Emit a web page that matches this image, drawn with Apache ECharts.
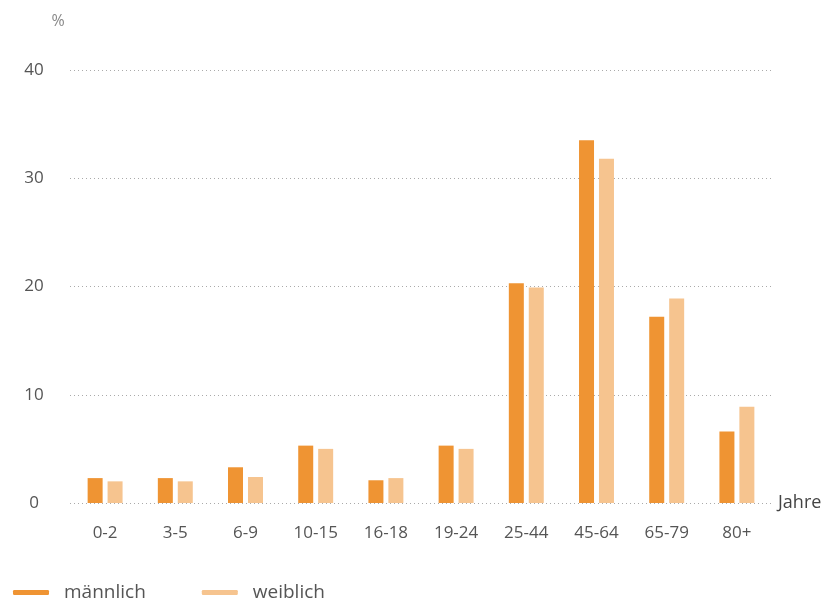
<!DOCTYPE html>
<html>
<head>
<meta charset="utf-8">
<script src="https://cdn.jsdelivr.net/npm/echarts@6/dist/echarts.min.js"></script>
<style>
  html, body { margin: 0; padding: 0; background: #fff; }
  #chart { width: 830px; height: 600px; }
</style>
</head>
<body>
<div id="chart"></div>
<script>
// age groups (Jahre)
const ageGroups = ['0-2', '3-5', '6-9', '10-15', '16-18', '19-24', '25-44', '45-64', '65-79', '80+']
// share in %
const maleValues = [2.3, 2.3, 3.3, 5.3, 2.1, 5.3, 20.3, 33.5, 17.2, 6.6]
const femaleValues = [2.0, 2.0, 2.4, 5.0, 2.3, 5.0, 19.9, 31.8, 18.9, 8.9]
const yTicks = { min: 0, max: 40, interval: 10 }

const font = '"Open Sans", "Noto Sans", sans-serif'
const maleColor = '#ef9433'
const femaleColor = '#f6c48f'

let chart = echarts.init(document.getElementById('chart'))
let option = {
  animation: false,
  textStyle: { fontFamily: font },
  grid: { left: 70, right: 58, top: 70, bottom: 97 },
  legend: {
    left: 8,
    top: 578,
    icon: 'roundRect',
    itemWidth: 36,
    itemHeight: 5,
    itemGap: 56,
    textStyle: { fontFamily: font, fontSize: 19, color: '#555', padding: [0, 0, 0, 10] },
    data: ['männlich', 'weiblich'],
  },
  xAxis: {
    type: 'category',
    data: ageGroups,
    name: 'Jahre',
    nameLocation: 'end',
    nameGap: 6,
    nameTextStyle: { fontFamily: font, fontSize: 18, color: '#444', verticalAlign: 'middle' },
    axisLine: { show: false },
    axisTick: { show: false },
    axisLabel: { margin: 22, fontFamily: font, fontSize: 17, color: '#555' },
  },
  yAxis: {
    type: 'value',
    min: yTicks.min,
    max: yTicks.max,
    interval: yTicks.interval,
    name: '%',
    nameLocation: 'end',
    nameGap: 41,
    nameTextStyle: { fontFamily: font, fontSize: 16, color: '#888', align: 'center', padding: [0, 24, 0, 0] },
    axisLine: { show: false },
    axisTick: { show: false },
    axisLabel: { margin: 36, align: 'center', fontFamily: font, fontSize: 17, color: '#555' },
    splitLine: { lineStyle: { color: '#aaa', type: [1, 3], width: 1 } },
  },
  series: [
    {
      name: 'männlich',
      type: 'bar',
      data: maleValues,
      barWidth: 15,
      barGap: '33%',
      itemStyle: { color: maleColor },
    },
    {
      name: 'weiblich',
      type: 'bar',
      data: femaleValues,
      barWidth: 15,
      itemStyle: { color: femaleColor },
    },
  ],
}
chart.setOption(option)
</script>
</body>
</html>
